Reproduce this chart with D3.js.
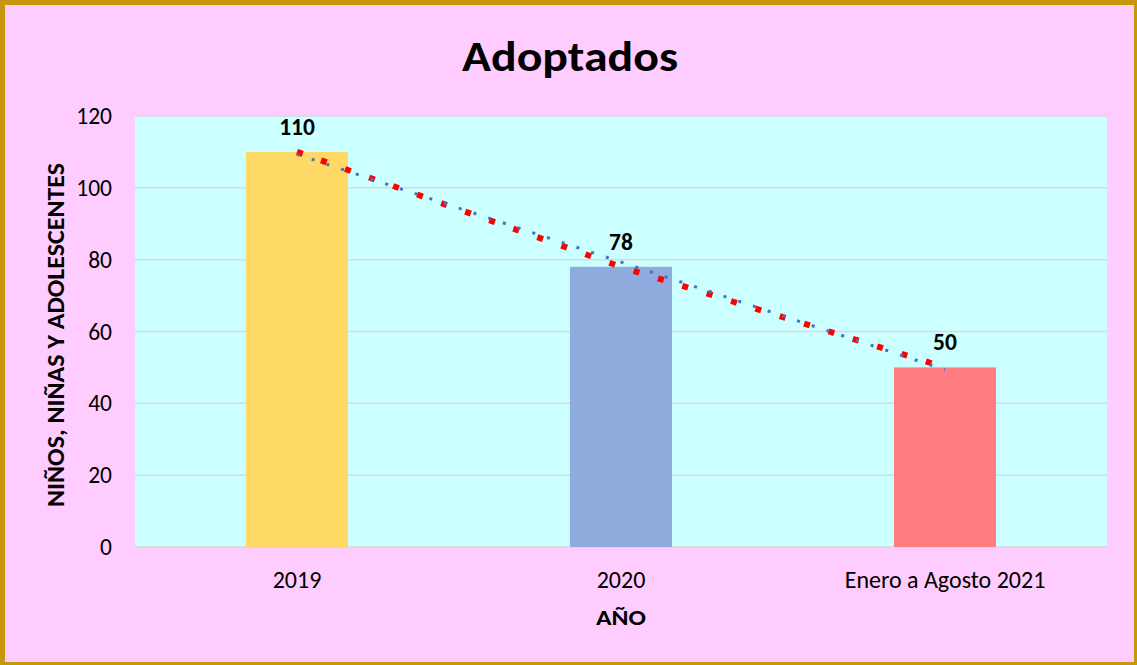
<!DOCTYPE html>
<html><head><meta charset="utf-8">
<script src="https://cdn.jsdelivr.net/npm/d3@7"></script>
<style>html,body{margin:0;padding:0;background:#fff;}svg{display:block;}</style>
</head><body>
<svg id="c" width="1137" height="665"></svg>
<script>
const categories = ["2019", "2020", "Enero a Agosto 2021"];
const values = [110, 78, 50];
const barColors = ["#FFD966", "#8FAADC", "#FF7C80"];
const yTicks = [0, 20, 40, 60, 80, 100, 120];

const W = 1137, H = 665;
const font = "Calibri, Carlito, 'Open Sans', sans-serif";
const svg = d3.select("#c");
svg.append("rect").attr("x", 0).attr("y", 0).attr("width", W).attr("height", H).attr("fill", "#C8960A");
svg.append("rect").attr("x", 5).attr("y", 5).attr("width", W - 8).attr("height", H - 8).attr("fill", "#FFCCFF");

const m = {l: 135, r: 1107, t: 116, b: 547};
const x = d3.scaleBand().domain(categories).range([m.l, m.r]).paddingInner(0).paddingOuter(0);
const y = d3.scaleLinear().domain([0, 120]).range([m.b, m.t]);
const bw = x.bandwidth() * 0.315;

svg.append("rect").attr("x", m.l).attr("y", m.t).attr("width", m.r - m.l).attr("height", m.b - m.t).attr("fill", "#CCFFFF");

svg.append("g").selectAll("line").data(yTicks).join("line")
  .attr("x1", m.l).attr("x2", m.r).attr("y1", d => y(d)).attr("y2", d => y(d))
  .attr("stroke", "#D9D9D9").attr("stroke-width", 1.5);

const yAxis = svg.append("g").attr("transform", `translate(${m.l},0)`)
  .call(d3.axisLeft(y).tickValues(yTicks).tickSize(0).tickPadding(23));
yAxis.select(".domain").remove();
yAxis.selectAll("text").attr("font-family", font).attr("font-size", 23.5).attr("fill", "#000");

svg.append("g").selectAll("rect").data(values).join("rect")
  .attr("x", (d, i) => x(categories[i]) + x.bandwidth() / 2 - bw / 2)
  .attr("width", bw)
  .attr("y", d => y(d)).attr("height", d => y(0) - y(d))
  .attr("fill", (d, i) => barColors[i]);

const xAxis = svg.append("g").attr("transform", `translate(0,${m.b})`)
  .call(d3.axisBottom(x).tickSize(0).tickPadding(24));
xAxis.select(".domain").remove();
xAxis.selectAll("text").attr("font-family", font).attr("font-size", 24).attr("fill", "#000");

const line = d3.line().x((d, i) => x(categories[i]) + x.bandwidth() / 2).y(d => y(d));
svg.append("path").datum(values).attr("d", line).attr("fill", "none")
  .attr("stroke", "#FF0000").attr("stroke-width", 6).attr("stroke-dasharray", "6 19.5");
// linear trend
const n = values.length, xs = d3.range(1, n + 1);
const mx = d3.mean(xs), my = d3.mean(values);
const slope = d3.sum(xs.map((v, i) => (v - mx) * (values[i] - my))) / d3.sum(xs.map(v => (v - mx) ** 2));
const trend = xs.map(v => my + slope * (v - mx));
svg.append("path").datum(trend).attr("d", line).attr("fill", "none")
  .attr("stroke", "#4472C4").attr("stroke-width", 3).attr("stroke-dasharray", "3 12.5");

svg.append("g").selectAll("text").data(values).join("text")
  .attr("x", (d, i) => x(categories[i]) + x.bandwidth() / 2)
  .attr("y", d => y(d) - 17)
  .attr("text-anchor", "middle").attr("font-family", font).attr("font-size", 23.5).attr("font-weight", "bold")
  .text(d => d);

svg.append("text").attr("x", 570).attr("y", 71).attr("text-anchor", "middle")
  .attr("font-family", font).attr("font-size", 43).attr("font-weight", "bold")
  .attr("textLength", 216).attr("lengthAdjust", "spacingAndGlyphs").text("Adoptados");
svg.append("text").attr("x", (m.l + m.r) / 2).attr("y", 625).attr("text-anchor", "middle")
  .attr("font-family", font).attr("font-size", 23).attr("font-weight", "bold")
  .attr("textLength", 50).attr("lengthAdjust", "spacingAndGlyphs").text("AÑO");
svg.append("text").attr("transform", `translate(64,335) rotate(-90)`).attr("text-anchor", "middle")
  .attr("font-family", font).attr("font-size", 25).attr("font-weight", "bold")
  .attr("textLength", 344).attr("lengthAdjust", "spacingAndGlyphs").text("NIÑOS, NIÑAS Y ADOLESCENTES");
</script>
</body></html>
